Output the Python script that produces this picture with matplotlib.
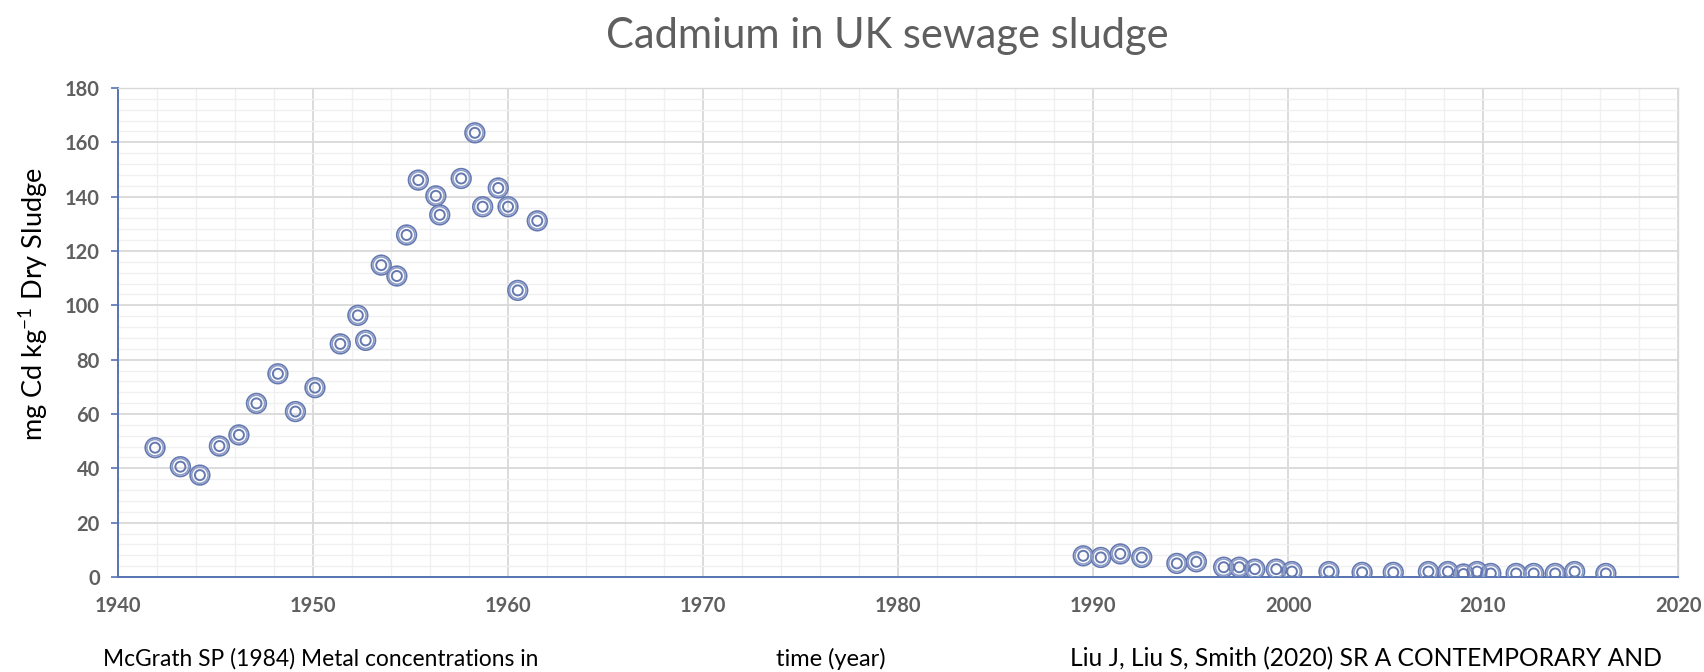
import matplotlib
matplotlib.use('Agg')
import matplotlib.pyplot as plt
from matplotlib.ticker import MultipleLocator

# McGrath (1984) historic series
old_years = [1941.9, 1943.2, 1944.2, 1945.2, 1946.2, 1947.1, 1948.2, 1949.1, 1950.1,
             1951.4, 1952.3, 1952.7, 1953.5, 1954.3, 1954.8, 1955.4, 1956.3, 1956.5,
             1957.6, 1958.3, 1958.7, 1959.5, 1960.0, 1960.5, 1961.5]
old_cd = [47.6, 40.6, 37.5, 48.2, 52.3, 63.9, 74.8, 60.9, 69.7,
          85.8, 96.3, 87.1, 114.8, 110.8, 125.9, 146.1, 140.3, 133.3,
          146.7, 163.5, 136.3, 143.2, 136.3, 105.5, 131.1]

# Liu et al. (2020) recent series
new_years = [1989.5, 1990.4, 1991.4, 1992.5, 1994.3, 1995.3, 1996.7, 1997.5, 1998.3,
             1999.4, 2000.2, 2002.1, 2003.8, 2005.4, 2007.2, 2008.2, 2009.0, 2009.7,
             2010.4, 2011.7, 2012.6, 2013.7, 2014.7, 2016.3]
new_cd = [7.8, 7.2, 8.5, 7.2, 5.0, 5.6, 3.6, 3.6, 2.9,
          2.9, 2.0, 2.0, 1.7, 1.7, 2.0, 2.0, 1.1, 2.0,
          1.3, 1.3, 1.3, 1.3, 2.0, 1.3]

title = 'Cadmium in UK sewage sludge'
ylabel = r'mg Cd kg$^{\mathregular{-1}}$ Dry Sludge'
xlabel = 'time (year)'
ref_left = 'McGrath SP (1984) Metal concentrations in'
ref_right = 'Liu J, Liu S, Smith (2020) SR A CONTEMPORARY AND'

plt.rcParams['font.family'] = ['Lato', 'DejaVu Sans']
plt.rcParams['mathtext.fontset'] = 'custom'
plt.rcParams['mathtext.rm'] = 'Lato'

axis_blue = '#5573b3'
mark = '#6579b0'
grey_txt = '#5f5f5f'

fig = plt.figure(figsize=(17.04, 6.72), dpi=100)
ax = fig.add_axes([118 / 1704, 1 - 577 / 672, (1678 - 118) / 1704, (577 - 88) / 672])

xs = old_years + new_years
ys = old_cd + new_cd
# double outer ring + inner ring
ax.scatter(xs, ys, s=200, facecolors='none', edgecolors=mark, linewidths=1.2, zorder=3)
ax.scatter(xs, ys, s=140, facecolors='none', edgecolors='#8e9dc8', linewidths=1.2, zorder=3)
ax.scatter(xs, ys, s=52, facecolors='none', edgecolors=mark, linewidths=1.4, zorder=3)

ax.set_xlim(1940, 2020)
ax.set_ylim(0, 180)
ax.xaxis.set_major_locator(MultipleLocator(10))
ax.xaxis.set_minor_locator(MultipleLocator(2))
ax.yaxis.set_major_locator(MultipleLocator(20))
ax.yaxis.set_minor_locator(MultipleLocator(4))

ax.grid(which='major', color='#d9d9d9', linewidth=1.3, zorder=0)
ax.grid(which='minor', color='#f0f0f0', linewidth=1.0, zorder=0)
ax.set_axisbelow(True)

for s in ['top', 'right']:
    ax.spines[s].set_color('#d9d9d9')
    ax.spines[s].set_linewidth(1.0)
for s in ['left', 'bottom']:
    ax.spines[s].set_color(axis_blue)
    ax.spines[s].set_linewidth(1.4)

ax.tick_params(axis='x', which='both', length=0, pad=14, labelsize=14.5, labelcolor=grey_txt)
ax.tick_params(axis='y', which='major', length=5, width=1.2, color=axis_blue, pad=8,
               labelsize=14.5, labelcolor=grey_txt)
ax.tick_params(axis='y', which='minor', length=0)
for lab in ax.get_xticklabels() + ax.get_yticklabels():
    lab.set_fontweight('bold')

fig.text(887 / 1704, 1 - 36 / 672, title, ha='center', va='center', fontsize=30, color=grey_txt)
fig.text(33 / 1704, 1 - 304 / 672, ylabel, ha='center', va='center', rotation=90, fontsize=19.5)
fig.text(103 / 1704, 1 - 659 / 672, ref_left, ha='left', va='center', fontsize=16.4)
fig.text(831 / 1704, 1 - 659 / 672, xlabel, ha='center', va='center', fontsize=17)
fig.text(1070 / 1704, 1 - 659 / 672, ref_right, ha='left', va='center', fontsize=17.7)

fig.savefig('out.png', dpi=100)
